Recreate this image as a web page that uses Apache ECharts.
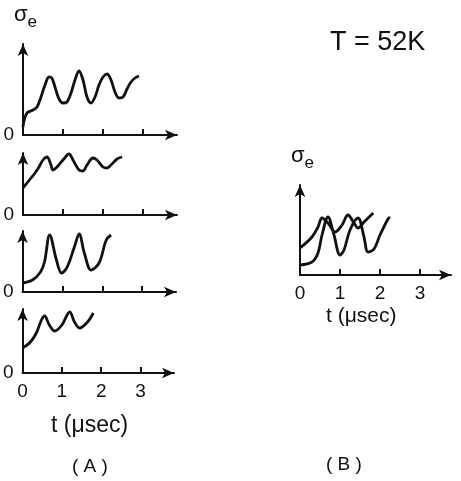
<!DOCTYPE html>
<html><head><meta charset="utf-8">
<script src="https://cdn.jsdelivr.net/npm/echarts@6/dist/echarts.min.js"></script>
<style>html,body{margin:0;padding:0;background:#fff}#c{width:461px;height:481px}</style>
</head><body><div id="c"></div>
<script>
// time (µs) and sigma_e (arbitrary units)
const tA1 = [0,0.03,0.1,0.25,0.35,0.45,0.55,0.65,0.72,0.8,0.9,1.0,1.1,1.2,1.3,1.4,1.5,1.6,1.7,1.8,1.9,2.0,2.1,2.2,2.3,2.4,2.5,2.6,2.7,2.8,2.9];
const sA1 = [8,15,22,25,28,38,50,58,57,48,36,32,33,42,55,64,55,38,32,38,50,58,61,55,43,37,38,46,53,57,59];
const tA2 = [0,0.1,0.2,0.3,0.4,0.5,0.6,0.7,0.75,0.85,1.0,1.15,1.25,1.4,1.5,1.6,1.75,1.85,2.0,2.1,2.2,2.35,2.48];
const sA2 = [27,32,37,42,48,55,58,50,45,48,55,61,55,45,44,50,57,55,48,47,50,56,58];
const tA3 = [0,0.25,0.45,0.55,0.68,0.85,0.98,1.12,1.3,1.42,1.55,1.72,1.92,2.1,2.22];
const sA3 = [9,12,20,30,57,32,19,25,45,58,39,22,29,52,57];
const tA4 = [0,0.2,0.35,0.48,0.56,0.68,0.82,1.0,1.2,1.32,1.45,1.65,1.8];
const sA4 = [25,31,40,53,57,48,42,48,61,51,45,51,60];
const tB1 = [0,0.3,0.45,0.55,0.7,0.88,1.05,1.2,1.35,1.45,1.6,1.83];
const sB1 = [27,38,48,57,52,43,50,60,52,47,53,62];
const tB2 = [0,0.3,0.45,0.55,0.7,0.85,1.0,1.1,1.25,1.45,1.6,1.7,1.85,2.0,2.2,2.25];
const sB2 = [10,13,22,40,58,40,20,25,45,57,38,23,26,40,56,58];
const tickLabels = ['0','1','2','3'];
const xTicks = [1,2,3];

const FONT = 'Liberation Sans';
const INK = '#111';
const pairs = (t, s) => t.map((v, i) => [v, s[i]]);

// panel frames: [left, top, width, height]
const frames = [
  [23, 44, 154, 91],
  [23, 153, 154, 62],
  [22, 231, 154, 61],
  [20, 309, 154, 64],
  [300, 185, 151, 90]
];
const panelData = [
  [pairs(tA1, sA1)],
  [pairs(tA2, sA2)],
  [pairs(tA3, sA3)],
  [pairs(tA4, sA4)],
  [pairs(tB1, sB1), pairs(tB2, sB2)]
];
const sigmaName = '{s|σ}{e|e}';
const sigmaRich = {
  s: {fontFamily: FONT, fontSize: 22, color: INK, padding: [0, 0, 7, 0]},
  e: {fontFamily: FONT, fontSize: 17, color: INK, padding: [7, 0, 0, 0]}
};

const grid = [], xAxis = [], yAxis = [], series = [];
frames.forEach((f, i) => {
  grid.push({left: f[0], top: f[1], width: f[2], height: f[3]});
  const showX = (i === 3 || i === 4);
  xAxis.push({
    type: 'value', gridIndex: i, min: 0, max: f[2] / 40,
    axisLine: {show: true, lineStyle: {color: INK, width: 2}, symbol: ['none', 'arrow'], symbolSize: [8, 12]},
    axisTick: {show: true, inside: true, length: 6, lineStyle: {color: INK, width: 2}, customValues: xTicks},
    axisLabel: {show: showX, customValues: [0,1,2,3], formatter: v => tickLabels[Math.round(v)],
      fontFamily: FONT, fontSize: 19, color: INK, margin: 9},
    splitLine: {show: false}
  });
  yAxis.push({
    type: 'value', gridIndex: i, min: 0, max: f[3],
    axisLine: {show: true, lineStyle: {color: INK, width: 2}, symbol: ['none', 'arrow'], symbolSize: [8, 12]},
    axisTick: {show: false},
    axisLabel: {show: i < 4, customValues: [0], fontFamily: FONT, fontSize: 19, color: INK, margin: 9},
    splitLine: {show: false},
    name: (i === 0 || i === 4) ? sigmaName : '',
    nameLocation: 'end', nameGap: 11,
    nameTextStyle: {rich: sigmaRich, align: 'left', padding: [0, 0, 0, -9]}
  });
  panelData[i].forEach(d => {
    series.push({
      type: 'line', xAxisIndex: i, yAxisIndex: i, data: d, smooth: 0.35,
      symbol: 'none', lineStyle: {color: INK, width: 2.8}, animation: false
    });
  });
});

const chart = echarts.init(document.getElementById('c'), null, {renderer: 'canvas'});
chart.setOption({
  backgroundColor: '#fff',
  animation: false,
  grid, xAxis, yAxis, series,
  graphic: [
    {type: 'text', left: 51, top: 414, style: {text: 't (μsec)', fontFamily: FONT, fontSize: 23, fill: INK}},
    {type: 'text', left: 326, top: 306, style: {text: 't (μsec)', fontFamily: FONT, fontSize: 21, fill: INK}},
    {type: 'text', left: 72, top: 457, style: {text: '( A )', fontFamily: FONT, fontSize: 19, fill: INK}},
    {type: 'text', left: 326, top: 455, style: {text: '( B )', fontFamily: FONT, fontSize: 19, fill: INK}},
    {type: 'text', left: 330, top: 29, style: {text: 'T = 52K', fontFamily: FONT, fontSize: 27, fill: INK}}
  ]
});
</script>
</body></html>
